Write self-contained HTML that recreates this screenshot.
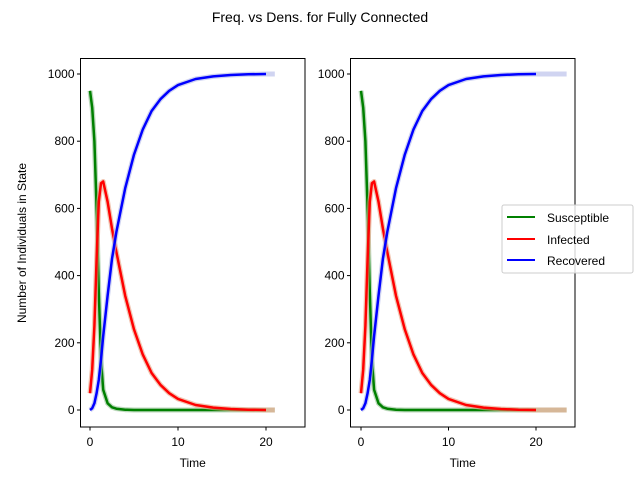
<!DOCTYPE html>
<html><head><meta charset="utf-8"><style>
body{margin:0;background:#fff}
svg{font-family:"Liberation Sans","DejaVu Sans",sans-serif}
</style></head><body>
<svg id="c" width="640" height="480" xmlns="http://www.w3.org/2000/svg">
<text x="320" y="22" font-size="14" text-anchor="middle">Freq. vs Dens. for Fully Connected</text>
<text transform="translate(26,243) rotate(-90)" font-size="12" text-anchor="middle">Number of Individuals in State</text>
<g id="legend">
<rect x="502" y="205" width="131" height="68" fill="#fff" fill-opacity="0.8" stroke="#ccc" rx="2"/>
<line x1="507" y1="217" x2="535" y2="217" stroke="green" stroke-width="2"/>
<text x="547" y="222" font-size="12">Susceptible</text>
<line x1="507" y1="239" x2="535" y2="239" stroke="red" stroke-width="2"/>
<text x="547" y="244" font-size="12">Infected</text>
<line x1="507" y1="260" x2="535" y2="260" stroke="blue" stroke-width="2"/>
<text x="547" y="265" font-size="12">Recovered</text>
</g>
</svg>
<script>
const times=[0,0.25,0.5,0.75,1,1.25,1.5,2,2.5,3,4,5,6,7,8,9,10,12,14,16,18,20];
const susceptible=[950,900,800,600,350,150,60,20,8,4,1,0,0,0,0,0,0,0,0,0,0,0];
const infected=[50,120,250,450,620,675,680,620,540,470,340,240,165,110,75,50,33,15,7,3,1,0];
const recovered=[0,5,20,50,90,150,220,340,450,530,660,760,835,890,925,950,967,985,993,997,999,1000];
const yTicks=[0,200,400,600,800,1000];
const xTicks=[0,10,20];
const panels=[{x0:80.5,x1:305,zx:90,sx:8.8,ext:21,name:'left-panel'},{x0:350.5,x1:575,zx:361,sx:8.75,ext:23.5,name:'right-panel'}];
const NS='http://www.w3.org/2000/svg';
const svg=document.getElementById('c');
const legend=document.getElementById('legend');
function mk(t,a,p){const e=document.createElementNS(NS,t);for(const k in a)e.setAttribute(k,a[k]);if(p)p.appendChild(e);else svg.insertBefore(e,legend);return e;}
const Y=v=>410-v*0.336;
panels.forEach(p=>{
  const X=t=>p.zx+t*p.sx;
  const g=mk('g',{});
  
  
  const series=[[susceptible,'green','#8fbf8f','susceptible-line'],[infected,'red','#e8a080','infected-line'],[recovered,'blue','#b0b8e8','recovered-line']];
  series.forEach(([vals,col,faint,nm])=>{
    let d='';times.forEach((t,i)=>d+=(i?'L':'M')+X(t).toFixed(1)+','+Y(vals[i]).toFixed(1));
    const last=vals[vals.length-1];
    const f=mk('path',{d:d+'L'+X(p.ext)+','+Y(last),fill:'none',stroke:faint,'stroke-width':5,'stroke-opacity':0.6,'stroke-linejoin':'round'},g);
    
    
    const l=mk('path',{d:d,fill:'none',stroke:col,'stroke-width':2.5,'stroke-linejoin':'round'},g);
    
    
  });
  const fr=mk('rect',{x:p.x0,y:58.5,width:p.x1-p.x0,height:368.5,fill:'none',stroke:'#000','stroke-width':1},g);
  
  
  yTicks.forEach(v=>{
    mk('line',{x1:p.x0-3.5,x2:p.x0,y1:Y(v),y2:Y(v),stroke:'#000'},g);
    const t=mk('text',{x:p.x0-6,y:Y(v)+4,'font-size':12,'text-anchor':'end'},g);t.textContent=v;
    
    
  });
  xTicks.forEach(v=>{
    mk('line',{x1:X(v),x2:X(v),y1:427,y2:430.5,stroke:'#000'},g);
    const t=mk('text',{x:X(v),y:446,'font-size':12,'text-anchor':'middle'},g);t.textContent=v;
    
    
  });
  const xt=mk('text',{x:(p.x0+p.x1)/2,y:467,'font-size':12,'text-anchor':'middle'},g);xt.textContent='Time';
  
  
});
</script>
</body></html>
